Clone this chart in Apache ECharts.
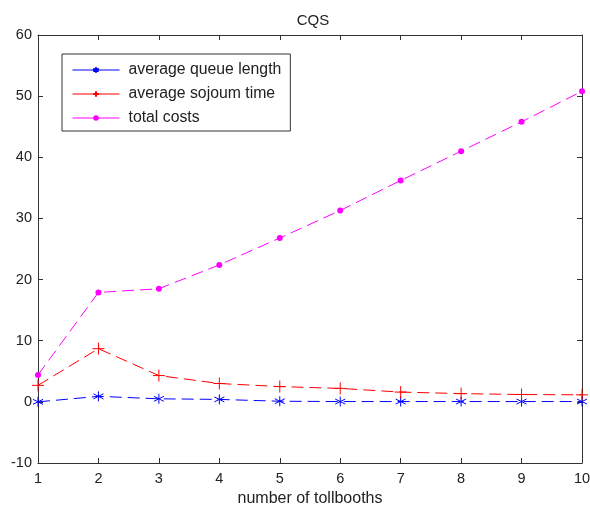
<!DOCTYPE html>
<html><head><meta charset="utf-8">
<script src="https://cdn.jsdelivr.net/npm/echarts@6/dist/echarts.min.js"></script>
<style>html,body{margin:0;padding:0;background:#fff}#c{width:590px;height:509px}</style>
</head><body><div id="c"></div>
<script>
const xValues = [1,2,3,4,5,6,7,8,9,10];
const queueLength = [0.0,0.9,0.5,0.4,0.1,0.05,0.05,0.05,0.05,0.05];
const sojournTime = [2.7,8.7,4.3,3.0,2.5,2.2,1.6,1.35,1.2,1.15];
const totalCosts = [4.4,17.9,18.5,22.4,26.8,31.3,36.2,41.0,45.8,50.8];
const yTicks = {min:-10,max:60,interval:10};

const pair = a => a.map((v,i)=>[xValues[i],v]);
const font = 'Liberation Sans, Arial, sans-serif';
const starPath = 'path://M5,0L5,10M0.7,2.5L9.3,7.5M0.7,7.5L9.3,2.5';
const plusPath = 'path://M5,0L5,10M0,5L10,5';

const chart = echarts.init(document.getElementById('c'));
const axisLine = {show:true,onZero:false,lineStyle:{color:'#333',width:1}};
chart.setOption({
  animation:false,
  backgroundColor:'#fff',
  title:{text:'CQS',left:308,top:8,textAlign:'center',textStyle:{fontFamily:font,fontSize:15,fontWeight:'normal',color:'#222'}},
  grid:{left:38,right:8,top:35,bottom:46,containLabel:false,outerBoundsMode:'none'},
  legend:{
    orient:'vertical',left:62,top:54,
    padding:[8,9,5,10],itemGap:8,itemWidth:47,itemHeight:7,
    borderColor:'#333',borderWidth:1,borderRadius:0,
    lineStyle:{type:'solid',width:1},
    textStyle:{fontFamily:font,fontSize:15.8,color:'#222',padding:[0,0,0,4]},
    data:['average queue length','average sojoum time','total costs']
  },
  xAxis:[{
    type:'value',min:1,max:10,interval:1,
    name:'number of tollbooths',nameLocation:'middle',nameGap:28,
    nameTextStyle:{fontFamily:font,fontSize:16,color:'#222'},
    axisLine, axisTick:{inside:true,length:5,lineStyle:{color:'#333'}},
    axisLabel:{fontFamily:font,fontSize:14.5,color:'#222',margin:8},
    splitLine:{show:false}
  },{
    type:'value',min:1,max:10,interval:1,position:'top',
    axisLine, axisTick:{inside:true,length:5,lineStyle:{color:'#333'}},
    axisLabel:{show:false},splitLine:{show:false}
  }],
  yAxis:[{
    type:'value',min:yTicks.min,max:yTicks.max,interval:yTicks.interval,
    axisLine, axisTick:{inside:true,length:5,lineStyle:{color:'#333'}},
    axisLabel:{fontFamily:font,fontSize:14.5,color:'#222',margin:6},
    splitLine:{show:false}
  },{
    type:'value',min:yTicks.min,max:yTicks.max,interval:yTicks.interval,position:'right',
    axisLine, axisTick:{inside:true,length:5,lineStyle:{color:'#333'}},
    axisLabel:{show:false},splitLine:{show:false}
  }],
  series:[{
    name:'average queue length',type:'line',data:pair(queueLength),
    symbol:starPath,symbolSize:10,
    lineStyle:{color:'#0000ff',width:1,type:[12,6]},
    itemStyle:{color:'none',borderColor:'#0000ff',borderWidth:1}
  },{
    name:'average sojoum time',type:'line',data:pair(sojournTime),
    symbol:plusPath,symbolSize:12,
    lineStyle:{color:'#ff0000',width:1,type:[12,6]},
    itemStyle:{color:'none',borderColor:'#ff0000',borderWidth:1}
  },{
    name:'total costs',type:'line',data:pair(totalCosts),
    symbol:'circle',symbolSize:6,
    lineStyle:{color:'#ff00ff',width:1,type:[12,6]},
    itemStyle:{color:'#ff00ff',borderColor:'#ff00ff',borderWidth:0}
  }]
});
</script></body></html>
